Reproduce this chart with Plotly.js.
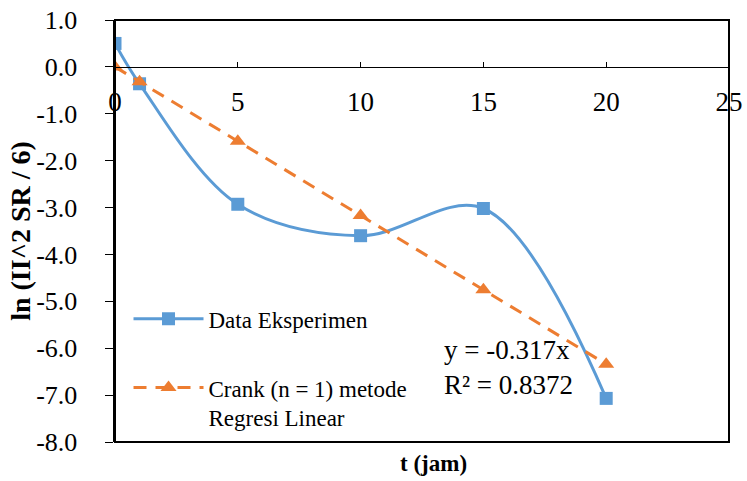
<!DOCTYPE html>
<html><head><meta charset="utf-8">
<script src="https://cdn.plot.ly/plotly-3.0.1.min.js"></script>
<style>body{margin:0;padding:0;background:#fff}#chart{width:747px;height:481px}</style>
</head><body><div id="chart"></div>
<script>
const tExp = [0, 1, 5, 10, 15, 20];
const yExp = [0.50, -0.36, -2.93, -3.60, -3.02, -7.07];
const tFit = [0, 1, 5, 10, 15, 20];
const yFit = [0.00, -0.317, -1.585, -3.17, -4.755, -6.34];
const xTicks = [0, 5, 10, 15, 20, 25];
const yTicks = [-8, -7, -6, -5, -4, -3, -2, -1, 0, 1];
const nameExp = 'Data Eksperimen';
const nameFit = 'Crank (n = 1) metode<br>Regresi Linear';
const eqText = 'y = -0.317x<br>R² = 0.8372';
const xTitle = 't (jam)';
const yTitle = 'ln (II^2 SR / 6)';

const font = 'Liberation Serif';
const yMin = -8, yMax = 1;

const traces = [
  {x: tExp, y: yExp, name: nameExp, legendgroup: 'a', mode: 'lines+markers', type: 'scatter',
   line: {color: '#5b9bd5', width: 3, shape: 'spline', smoothing: 1},
   marker: {symbol: 'square', size: 13, color: '#5b9bd5'}},
  {x: tFit, y: yFit, name: nameFit, legendgroup: 'b', mode: 'lines+markers', type: 'scatter',
   line: {color: '#ed7d31', width: 3, dash: '13px,9px'},
   marker: {symbol: 'triangle-up', size: 14, color: '#ed7d31'}}
];

const layout = {
  width: 747, height: 481,
  margin: {l: 115, r: 18, t: 20, b: 39},
  paper_bgcolor: '#fff', plot_bgcolor: '#fff',
  font: {family: font, size: 22, color: '#000'},
  showlegend: true,
  legend: {x: 0.022, y: 0.343, xanchor: 'left', yanchor: 'top', valign: 'top',
    traceorder: 'grouped', tracegroupgap: 36,
    font: {family: font, size: 23, color: '#000'}, bgcolor: 'rgba(0,0,0,0)',
    itemwidth: 70},
  xaxis: {range: [0, 25], tickvals: xTicks, ticktext: xTicks.map(String),
    anchor: 'free', position: (0 - yMin) / (yMax - yMin),
    showgrid: false, zeroline: false, showline: true, linecolor: '#000', linewidth: 1.5,
    ticks: 'inside', ticklen: 5, tickcolor: '#000', tickwidth: 1, ticklabelstandoff: 10,
    tickfont: {family: font, size: 27, color: '#000'}},
  yaxis: {range: [yMin, yMax], tickvals: yTicks, ticktext: yTicks.map(v => v.toFixed(1) + '\u00a0'),
    showgrid: false, zeroline: false, showline: true, linecolor: '#000', linewidth: 2,
    ticks: 'outside', ticklen: 8, tickcolor: '#000', tickwidth: 1, ticklabelstandoff: 16,
    tickfont: {family: font, size: 26, color: '#000'}},
  shapes: [
    {type: 'rect', xref: 'paper', yref: 'paper', x0: 0, x1: 1, y0: 0, y1: 1,
     line: {color: '#000', width: 2}}
  ],
  annotations: [
    {text: eqText, xref: 'x', yref: 'y', x: 13.3, y: -6.41, showarrow: false,
     align: 'left', xanchor: 'left', yanchor: 'middle',
     font: {family: font, size: 27, color: '#000'}},
    {text: '<b>' + xTitle + '</b>', xref: 'paper', yref: 'paper', x: 0.518, y: -0.05,
     showarrow: false, xanchor: 'center', yanchor: 'middle',
     font: {family: font, size: 23, color: '#000'}},
    {text: '<b>' + yTitle + '</b>', xref: 'paper', yref: 'paper', x: -0.155, y: 0.5,
     showarrow: false, xanchor: 'center', yanchor: 'middle', textangle: -90,
     font: {family: font, size: 28, color: '#000'}}
  ]
};
Plotly.newPlot('chart', traces, layout, {displayModeBar: false, staticPlot: true});
</script></body></html>
